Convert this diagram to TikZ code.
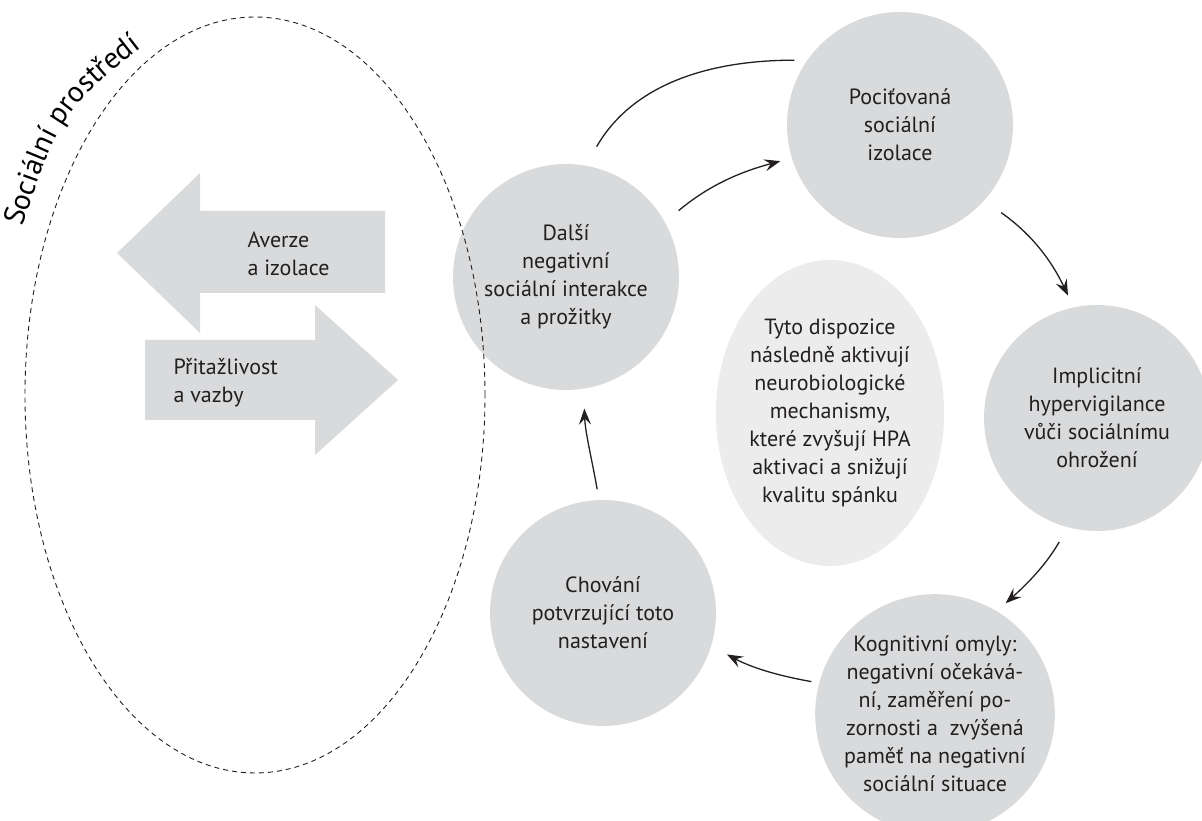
\documentclass[tikz,border=0pt]{standalone}
\usepackage{fontspec}
\setmainfont{PT Sans}
\usepackage{tikz}
\usetikzlibrary{shapes.geometric, arrows.meta, decorations.text}
\definecolor{circgray}{RGB}{217,218,219}
\definecolor{ovalgray}{RGB}{236,236,236}
\definecolor{inkblack}{RGB}{35,31,32}
\tikzstyle{stage} = [circle, minimum size=226pt, inner sep=0pt, outer sep=0pt, fill=circgray, align=center, text=inkblack]
\tikzstyle{arrow} = [line width=1.3pt, draw=inkblack, -{Stealth[length=16pt, width=12pt, inset=6pt]}]
\tikzstyle{link} = [line width=1.3pt, draw=inkblack]
\tikzstyle{bigarrow} = [fill=circgray]

\begin{document}
\begin{tikzpicture}[x=1pt, y=1pt, font=\fontsize{22}{28}\selectfont]
    \useasboundingbox (0,0) rectangle (1202,821);
    % cycle of stages
    \node[stage] (pocit) at (900,696) {Pociťovaná\\sociální\\izolace};
    \node[stage] (hyper) at (1097,403) {Implicitní\\hypervigilance\\vůči sociálnímu\\ohrožení};
    \node[stage] (omyly) at (935,107) {Kognitivní omyly:\\negativní očekává-\\ní, zaměření po-\\zornosti a\ \ zvýšená\\paměť na negativní\\sociální situace};
    \node[stage] (chovani) at (603,208) {Chování\\potvrzující toto\\nastavení};
    \node[stage] (dalsi) at (566,544) {Další\\negativní\\sociální interakce\\a prožitky};
    \node[ellipse, minimum width=196pt, minimum height=306pt, inner sep=0pt, fill=ovalgray, align=center, text=inkblack] (dispozice) at (830,408)
        {Tyto dispozice\\následně aktivují\\neurobiologické\\mechanismy,\\které zvyšují HPA\\aktivaci a snižují\\kvalitu spánku};

    % social environment
    \fill[bigarrow] (117,568) -- (200,648) -- (200,610) -- (385,610) -- (385,528) -- (200,528) -- (200,488) -- cycle;
    \node[anchor=west, align=left, text=inkblack] (averze) at (244,567) {Averze\\a izolace};
    \fill[bigarrow] (398,441) -- (315,516) -- (315,481) -- (145,481) -- (145,401) -- (315,401) -- (315,366) -- cycle;
    \node[anchor=west, align=left, text=inkblack] (vazby) at (170,438) {Přitažlivost\\a vazby};
    \node[ellipse, draw=inkblack, dash pattern=on 5pt off 4pt, line width=0.9pt, minimum width=460pt, minimum height=756pt, inner sep=0pt] (prostredi) at (255,426) {};
    \path[decorate, decoration={text along path, text align=center,
        text={|\fontsize{29.5}{29.5}\selectfont|Sociální prostředí}}]
        (12,560) .. controls (60,712) .. (170,795);

    % connectors
    \draw[link, shorten <=22pt, shorten >=13pt] (dalsi.80) to[out=60, in=180] (pocit.145);
    \draw[arrow, shorten <=18pt, shorten >=12pt] (dalsi.29) to[out=40, in=195] (pocit.197);
    \draw[arrow, shorten <=21pt, shorten >=13pt] (pocit.-42) to[out=-35, in=115] (hyper.102);
    \draw[arrow, shorten <=17pt, shorten >=12pt] (hyper.255) to[out=240, in=42] (omyly.59);
    \draw[arrow, shorten <=8pt, shorten >=18pt] (omyly.165) to[out=170, in=-28] (chovani.-17);
    \draw[arrow, shorten <=11pt, shorten >=20pt] (chovani.92) to[out=100, in=-88] (dalsi.-81);
\end{tikzpicture}
\end{document}
